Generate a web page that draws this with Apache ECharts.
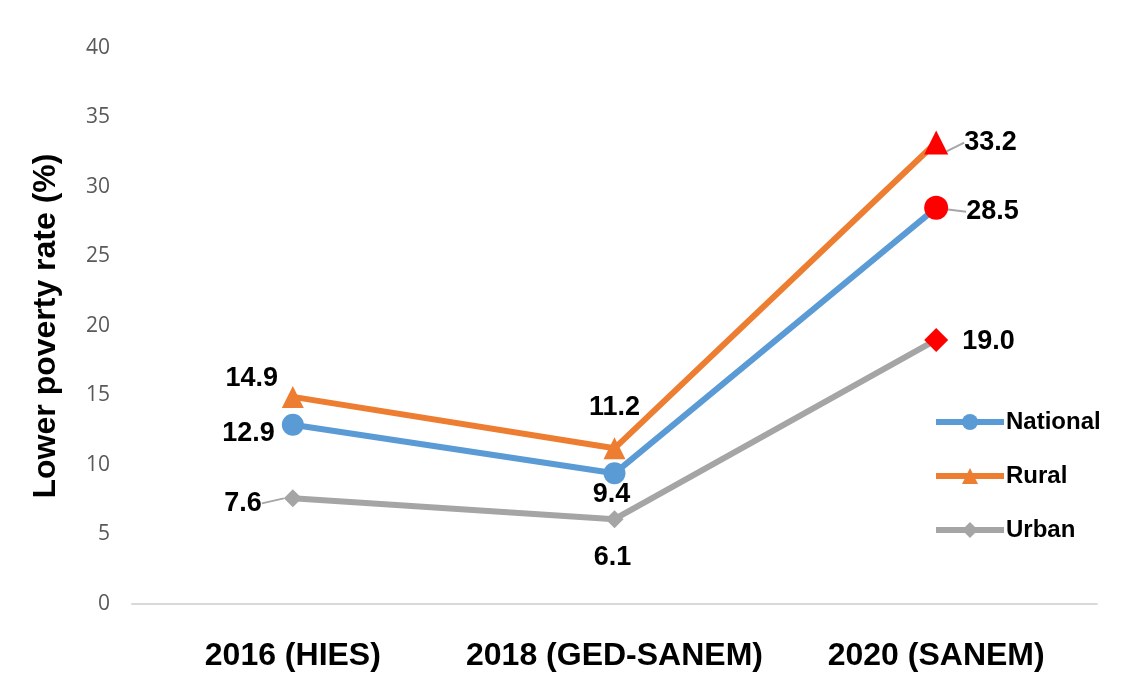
<!DOCTYPE html>
<html>
<head>
<meta charset="utf-8">
<script src="https://cdn.jsdelivr.net/npm/echarts@6/dist/echarts.min.js"></script>
<style>
html,body{margin:0;padding:0;background:#fff;}
#c{width:1123px;height:676px;}
</style>
</head>
<body>
<div id="c"></div>
<script>
const categories = ['2016 (HIES)', '2018 (GED-SANEM)', '2020 (SANEM)'];
const national = [12.9, 9.4, 28.5];
const rural = [14.9, 11.2, 33.2];
const urban = [7.6, 6.1, 19.0];
const yTicks = [0, 40, 5];

const chart = echarts.init(document.getElementById('c'));
const labelFont = {fontFamily: 'Liberation Sans', fontWeight: 'bold', fontSize: 27, color: '#000'};
const guideOn = {show: true, length2: 0, lineStyle: {color: '#A6A6A6', width: 2}};

function mk(values, labels, guides) {
  return values.map((v, i) => {
    const d = {value: v, label: Object.assign({show: true, formatter: p => Number(p.value).toFixed(1)}, labelFont, labels[i])};
    d.labelLine = guides[i] ? guideOn : {show: false};
    if (i === 2) {
      d.itemStyle = {color: '#FF0000'};
      d.symbolSize = 24;
    }
    return d;
  });
}
function layout(shifts) {
  return p => ({dx: shifts[p.dataIndex][0], dy: shifts[p.dataIndex][1]});
}

const option = {
  backgroundColor: '#fff',
  animation: false,
  grid: {left: 132, right: 26, top: 48, bottom: 72},
  legend: {
    orient: 'vertical', left: 928, top: 405,
    itemWidth: 68, itemHeight: 20, itemGap: 30,
    lineStyle: {width: 6},
    textStyle: {fontFamily: 'Liberation Sans', fontWeight: 'bold', fontSize: 24, lineHeight: 20, color: '#000', padding: [0,0,0,-3]},
    data: ['National', 'Rural', 'Urban']
  },
  xAxis: {
    type: 'category', data: categories, boundaryGap: true,
    axisLine: {lineStyle: {color: '#D9D9D9', width: 2}},
    axisTick: {show: false},
    axisLabel: {interval: 0, fontFamily: 'Liberation Sans', fontWeight: 'bold', fontSize: 32, color: '#000', margin: 36}
  },
  yAxis: {
    type: 'value', min: yTicks[0], max: yTicks[1], interval: yTicks[2],
    axisLine: {show: false}, axisTick: {show: false}, splitLine: {show: false},
    axisLabel: {fontFamily: 'Open Sans', fontSize: 21, color: '#595959', margin: 22},
    name: 'Lower poverty rate (%)', nameLocation: 'middle', nameGap: 70,
    nameTextStyle: {fontFamily: 'Liberation Sans', fontWeight: 'bold', fontSize: 32, color: '#000'}
  },
  series: [
    {
      name: 'Rural', type: 'line', data: mk(rural, [
        {position: 'top', distance: 0},
        {position: 'top', distance: 19},
        {position: 'right', distance: 6}
      ], [false, false, true]),
      symbol: 'triangle', symbolSize: 22,
      lineStyle: {color: '#ED7D31', width: 6}, itemStyle: {color: '#ED7D31'},
      labelLayout: layout([[-41, 6], [0, 3], [10, 0]])
    },
    {
      name: 'National', type: 'line', data: mk(national, [
        {position: 'left', distance: 4},
        {position: 'bottom', distance: -6},
        {position: 'right', distance: 6}
      ], [false, false, true]),
      symbol: 'circle', symbolSize: 22,
      lineStyle: {color: '#5B9BD5', width: 6}, itemStyle: {color: '#5B9BD5'},
      labelLayout: layout([[-3, 9], [-3, 3], [12, 4]])
    },
    {
      name: 'Urban', type: 'line', data: mk(urban, [
        {position: 'left', distance: 4},
        {position: 'bottom', distance: 13},
        {position: 'right', distance: 16}
      ], [true, false, false]),
      symbol: 'diamond', symbolSize: 18,
      lineStyle: {color: '#A5A5A5', width: 6}, itemStyle: {color: '#A5A5A5'},
      labelLayout: layout([[-18, 5], [-2, 3], [-2, 2]])
    }
  ]
};
chart.setOption(option);
</script>
</body>
</html>
